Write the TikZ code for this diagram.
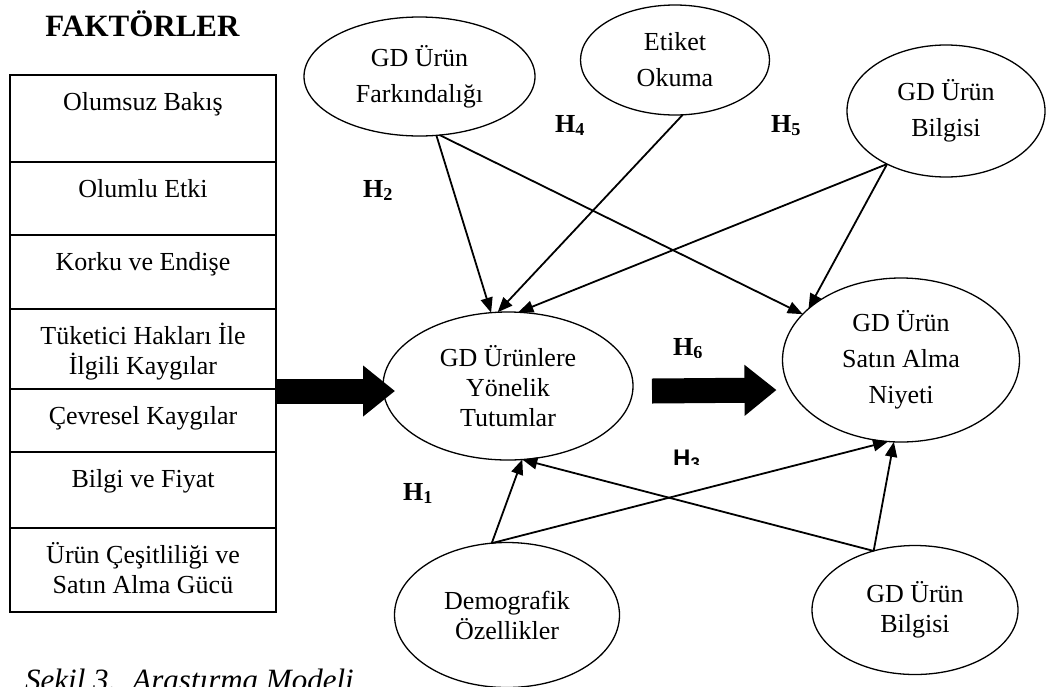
\documentclass[tikz,border=0pt]{standalone}
\usepackage{fontspec}
\setmainfont{Liberation Serif}
\newfontfamily\hsans{Liberation Sans}
\usetikzlibrary{shapes.geometric, arrows.meta}

\tikzset{
  yapi/.style={ellipse, draw, line width=1.3pt, inner sep=0pt, outer sep=0pt, align=center, font=\fontsize{26}{30}\selectfont},
  genis/.style={font=\fontsize{26}{36}\selectfont},
  satir/.style={rectangle, draw, line width=1.6pt, minimum width=266pt, inner sep=0pt, outer sep=0pt, anchor=north},
  yazi/.style={anchor=north, inner sep=0pt, align=center, font=\fontsize{26}{30}\selectfont},
  hip/.style={anchor=base west, inner sep=0pt, font=\fontsize{26}{30}\selectfont\bfseries},
  ok/.style={line width=1.8pt, -{Triangle[length=15pt, width=12pt]}},
  kalin/.style={line width=25pt, -{Triangle[length=32pt, width=49pt]}},
}

\begin{document}
\begin{tikzpicture}[x=1pt, y=-1pt]
\useasboundingbox (0,0) rectangle (1046,686);

% Baslik
\node[anchor=base, inner sep=0pt, font=\fontsize{31}{36}\selectfont\bfseries] (baslik) at (142.5,36) {FAKTÖRLER};

% Faktorler kutusu
\foreach \n/\ust/\alt/\metin in {1/75/162/{Olumsuz Bakış}, 2/162/235/{Olumlu Etki}, 3/235/309/{Korku ve Endişe}, 4/309/389/{Tüketici Hakları İle\\İlgili Kaygılar}, 5/389/452/{Çevresel Kaygılar}, 6/452/528/{Bilgi ve Fiyat}, 7/528/612/{Ürün Çeşitliliği ve\\Satın Alma Gücü}}
{
  \node[satir, minimum height={\alt-\ust}] (r\n) at (143,\ust) {};
  \node[yazi] (t\n) at (143,\ust+11) {\rule{0pt}{24pt}\metin};
}

% Yapilar
\node[yapi, genis, minimum width=231pt, minimum height=119pt] (fark) at (419.5,76.5) {GD Ürün\\Farkındalığı};
\node[yapi, genis, minimum width=189pt, minimum height=110pt] (etiket) at (675,60) {Etiket\\Okuma};
\node[yapi, genis, minimum width=198pt, minimum height=132pt] (ubil) at (946,111) {GD Ürün\\Bilgisi};
\node[yapi, minimum width=250pt, minimum height=148pt] (tutum) at (508,386) {GD Ürünlere\\Yönelik\\Tutumlar};
\node[yapi, genis, minimum width=237pt, minimum height=164pt] (niyet) at (901,360) {GD Ürün\\Satın Alma\\Niyeti};
\node[yapi, minimum width=225pt, minimum height=145pt] (demo) at (507,615) {Demografik\\Özellikler};
\node[yapi, minimum width=206pt, minimum height=129pt] (abil) at (915,610) {GD Ürün\\Bilgisi};

% Oklar
\draw[ok] (fark.-74) -- (tutum.103);
\draw[ok] (fark.-71) -- (niyet.155);
\draw[ok] (etiket.-82) -- (tutum.98);
\draw[ok] (ubil.222) -- (tutum.82);
\draw[ok] (ubil.222) -- (niyet.151);
\draw[ok] (demo.102) -- (tutum.-79);
\draw[ok] (demo.102) -- (niyet.-99);
\draw[ok] (abil.125) -- (tutum.-79);
\draw[ok] (abil.125) -- (niyet.-95);

\draw[kalin] ([yshift=-2pt]r5.north east) -- ([xshift=12pt,yshift=-5pt]tutum.west);
\draw[kalin] ([xshift=19pt,yshift=-5pt]tutum.east) -- ([xshift=-6pt,yshift=-30pt]niyet.west);

% Hipotezler
\node[hip] (h1) at (403,500) {H\textsubscript{1}};
\node[hip] (h2) at (363,197) {H\textsubscript{2}};
\node[hip] (h4) at (555,132) {H\textsubscript{4}};
\node[hip] (h5) at (771,132) {H\textsubscript{5}};
\begin{scope}
  \clip (660,320) rectangle (720,357);
  \node[hip] (h6) at (673,355) {H\textsubscript{6}};
\end{scope}
\begin{scope}
  \clip (660,430) rectangle (720,464);
  \node[hip, font=\fontsize{24}{28}\selectfont\hsans\bfseries] (h3) at (673,466) {H\textsubscript{3}};
\end{scope}

\node[anchor=base west, inner sep=0pt, font=\fontsize{31}{36}\selectfont\itshape] (sekil) at (25,690) {Şekil 3.\hspace{16pt}Araştırma Modeli};
\end{tikzpicture}
\end{document}
